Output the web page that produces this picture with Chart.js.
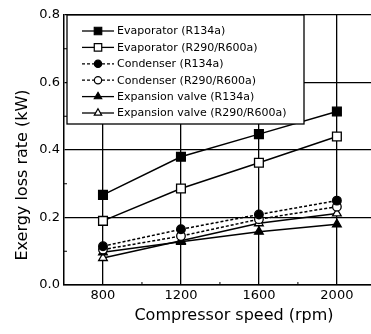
<!DOCTYPE html>
<html>
<head>
<meta charset="utf-8">
<script src="https://cdn.jsdelivr.net/npm/chart.js@4.4.1/dist/chart.umd.min.js"></script>
<style>
  html, body { margin: 0; padding: 0; background: #fff; overflow: hidden; }
  #wrap { width: 371px; height: 334px; }
  #exergyChart { display: block; }
</style>
</head>
<body>
<div id="wrap"><canvas id="exergyChart" width="371" height="334"></canvas></div>
<script>
const speeds = [800, 1200, 1600, 2000];
const xTicks = [800, 1200, 1600, 2000];
const yTicks = [0, 0.2, 0.4, 0.6, 0.8];
const minorX = [1000, 1400, 1800];
const minorY = [0.1, 0.3, 0.5, 0.7];

const evapR134a = [0.267, 0.380, 0.447, 0.514];
const evapR290 = [0.190, 0.286, 0.362, 0.440];
const condR134a = [0.115, 0.165, 0.209, 0.250];
const condR290 = [0.105, 0.145, 0.195, 0.232];
const expR134a = [0.097, 0.128, 0.158, 0.180];
const expR290 = [0.080, 0.131, 0.183, 0.212];

const labels = [
  "Evaporator (R134a)",
  "Evaporator (R290/R600a)",
  "Condenser (R134a)",
  "Condenser (R290/R600a)",
  "Expansion valve (R134a)",
  "Expansion valve (R290/R600a)",
];

const FONT = "'DejaVu Sans', sans-serif";
const INK = "#000";

function series(label, values, style, filled, dashed, radius) {
  return {
    label,
    data: speeds.map((s, i) => ({ x: s, y: values[i] })),
    borderColor: INK,
    borderWidth: 1.5,
    borderDash: dashed ? [3, 2] : [],
    pointStyle: style,
    pointRadius: radius,
    pointHoverRadius: radius,
    pointBackgroundColor: filled ? INK : "#fff",
    pointBorderColor: INK,
    pointBorderWidth: 1.3,
    tension: 0,
    fill: false,
  };
}

// legend box, axis titles and minor ticks drawn on the canvas
const decorPlugin = {
  id: "decor",
  afterDraw(chart) {
    const ctx = chart.ctx;
    const a = chart.chartArea;
    const xs = chart.scales.x;
    const ys = chart.scales.y;

    ctx.save();
    ctx.strokeStyle = INK;
    ctx.lineWidth = 1;
    minorY.forEach((v) => {
      const py = ys.getPixelForValue(v);
      ctx.beginPath();
      ctx.moveTo(a.left, py);
      ctx.lineTo(a.left + 3, py);
      ctx.stroke();
    });
    minorX.forEach((v) => {
      const px = xs.getPixelForValue(v);
      ctx.beginPath();
      ctx.moveTo(px, a.bottom);
      ctx.lineTo(px, a.bottom - 3);
      ctx.stroke();
    });

    // legend
    const bx = a.left + 3, by = a.top, bw = 237, bh = 109;
    ctx.fillStyle = "#fff";
    ctx.fillRect(bx, by, bw, bh);
    ctx.lineWidth = 1.3;
    ctx.strokeRect(bx, by, bw, bh);
    ctx.font = "11px " + FONT;
    ctx.textBaseline = "middle";
    ctx.textAlign = "left";
    chart.data.datasets.forEach((ds, i) => {
      const ry = by + 16 + i * 16.4;
      ctx.save();
      ctx.lineWidth = 1.3;
      ctx.strokeStyle = INK;
      ctx.setLineDash(ds.borderDash);
      ctx.beginPath();
      ctx.moveTo(bx + 15, ry);
      ctx.lineTo(bx + 47, ry);
      ctx.stroke();
      ctx.setLineDash([]);
      ctx.fillStyle = ds.pointBackgroundColor;
      ctx.strokeStyle = INK;
      ctx.lineWidth = 1.2;
      Chart.helpers.drawPoint(ctx, {
        pointStyle: ds.pointStyle,
        radius: ds.pointRadius * 0.85,
        rotation: 0,
        borderWidth: 1.2,
      }, bx + 31, ry);
      ctx.restore();
      ctx.fillStyle = INK;
      ctx.fillText(ds.label, bx + 50, ry + 0.5);
    });

    // axis titles
    ctx.fillStyle = INK;
    ctx.textAlign = "center";
    ctx.font = "16px " + FONT;
    ctx.fillText("Compressor speed (rpm)", a.left + 170, a.bottom + 31);
    ctx.translate(23, a.top + 160);
    ctx.rotate(-Math.PI / 2);
    ctx.fillText("Exergy loss rate (kW)", 0, 0);
    ctx.restore();
  },
};

const ctx = document.getElementById("exergyChart").getContext("2d");
new Chart(ctx, {
  type: "line",
  data: {
    datasets: [
      series(labels[0], evapR134a, "rect", true, false, 6.2),
      series(labels[1], evapR290, "rect", false, false, 6.2),
      series(labels[2], condR134a, "circle", true, true, 4.3),
      series(labels[3], condR290, "circle", false, true, 4.3),
      series(labels[4], expR134a, "triangle", true, false, 5),
      series(labels[5], expR290, "triangle", false, false, 5),
    ],
  },
  options: {
    responsive: false,
    animation: false,
    layout: { autoPadding: false, padding: { top: 15, right: 0, left: 0, bottom: 0 } },
    plugins: {
      legend: { display: false },
      tooltip: { enabled: false },
    },
    scales: {
      x: {
        type: "linear",
        min: 600,
        max: 2175,
        afterBuildTicks: (scale) => {
          scale.ticks = xTicks.map((v) => ({ value: v }));
        },
        afterFit: (scale) => {
          scale.height = 49;
          scale.paddingLeft = 0;
          scale.paddingRight = 0;
        },
        ticks: {
          color: INK,
          font: { family: FONT, size: 13 },
          padding: 3,
          maxRotation: 0,
          callback: (v) => String(v),
        },
        grid: { color: INK, lineWidth: 1.3, drawTicks: false },
        border: { color: INK, width: 1.5 },
      },
      y: {
        min: 0,
        max: 0.8,
        afterBuildTicks: (scale) => {
          scale.ticks = yTicks.map((v) => ({ value: v }));
        },
        afterFit: (scale) => {
          scale.width = 64;
        },
        ticks: {
          color: INK,
          font: { family: FONT, size: 13 },
          padding: 4,
          callback: (v) => v.toFixed(1),
        },
        grid: { color: INK, lineWidth: 1.3, drawTicks: false },
        border: { color: INK, width: 1.5 },
      },
    },
  },
  plugins: [decorPlugin],
});
</script>
</body>
</html>
